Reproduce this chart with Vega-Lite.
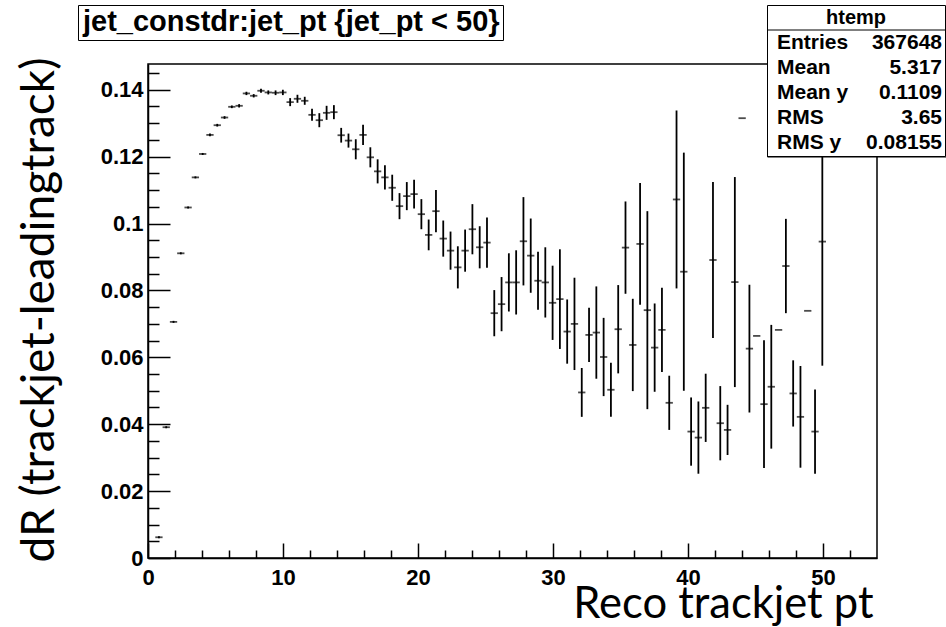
{
  "$schema": "https://vega.github.io/schema/vega-lite/v6.json",
  "width": 729,
  "height": 494,
  "autosize": "none",
  "padding": {"left": 148, "top": 64, "right": 69, "bottom": 69},
  "background": "white",
  "config": {"view": {"stroke": "black", "strokeWidth": 1.5}},
  "resolve": {"axis": {"x": "independent", "y": "independent"}},
  "datasets": {
    "profile": [
      {"x": 0.81, "y": 0.0062, "err": 0.0003},
      {"x": 1.35, "y": 0.0391, "err": 0.0003},
      {"x": 1.89, "y": 0.0706, "err": 0.0003},
      {"x": 2.43, "y": 0.0911, "err": 0.0003},
      {"x": 2.97, "y": 0.1048, "err": 0.0003},
      {"x": 3.51, "y": 0.1138, "err": 0.0003},
      {"x": 4.05, "y": 0.1208, "err": 0.0003},
      {"x": 4.59, "y": 0.1265, "err": 0.0004},
      {"x": 5.13, "y": 0.1294, "err": 0.0004},
      {"x": 5.67, "y": 0.1317, "err": 0.0004},
      {"x": 6.21, "y": 0.1349, "err": 0.0004},
      {"x": 6.75, "y": 0.1352, "err": 0.0005},
      {"x": 7.29, "y": 0.1389, "err": 0.0005},
      {"x": 7.83, "y": 0.1382, "err": 0.0005},
      {"x": 8.37, "y": 0.1397, "err": 0.0006},
      {"x": 8.91, "y": 0.1392, "err": 0.0006},
      {"x": 9.45, "y": 0.1391, "err": 0.0007},
      {"x": 9.99, "y": 0.1392, "err": 0.0008},
      {"x": 10.53, "y": 0.1363, "err": 0.0012},
      {"x": 11.07, "y": 0.1373, "err": 0.0012},
      {"x": 11.61, "y": 0.1367, "err": 0.0012},
      {"x": 12.15, "y": 0.1325, "err": 0.0018},
      {"x": 12.69, "y": 0.1309, "err": 0.0021},
      {"x": 13.23, "y": 0.1331, "err": 0.0021},
      {"x": 13.77, "y": 0.1333, "err": 0.0021},
      {"x": 14.31, "y": 0.1264, "err": 0.0022},
      {"x": 14.85, "y": 0.1248, "err": 0.0021},
      {"x": 15.39, "y": 0.1222, "err": 0.003},
      {"x": 15.93, "y": 0.1265, "err": 0.003},
      {"x": 16.47, "y": 0.1198, "err": 0.003},
      {"x": 17.01, "y": 0.1156, "err": 0.0036},
      {"x": 17.55, "y": 0.1138, "err": 0.0036},
      {"x": 18.09, "y": 0.1107, "err": 0.0039},
      {"x": 18.63, "y": 0.1052, "err": 0.0039},
      {"x": 19.17, "y": 0.1082, "err": 0.0042},
      {"x": 19.71, "y": 0.1088, "err": 0.0043},
      {"x": 20.25, "y": 0.1028, "err": 0.0045},
      {"x": 20.79, "y": 0.0966, "err": 0.0046},
      {"x": 21.33, "y": 0.1037, "err": 0.0063},
      {"x": 21.87, "y": 0.0955, "err": 0.0054},
      {"x": 22.41, "y": 0.0919, "err": 0.0057},
      {"x": 22.95, "y": 0.0869, "err": 0.0063},
      {"x": 23.49, "y": 0.0919, "err": 0.0063},
      {"x": 24.03, "y": 0.0983, "err": 0.0075},
      {"x": 24.57, "y": 0.0929, "err": 0.0063},
      {"x": 25.11, "y": 0.0943, "err": 0.0075},
      {"x": 25.65, "y": 0.0732, "err": 0.0069},
      {"x": 26.19, "y": 0.0759, "err": 0.0081},
      {"x": 26.73, "y": 0.0824, "err": 0.0087},
      {"x": 27.27, "y": 0.0824, "err": 0.0096},
      {"x": 27.81, "y": 0.0947, "err": 0.0132},
      {"x": 28.35, "y": 0.0904, "err": 0.0111},
      {"x": 28.89, "y": 0.0829, "err": 0.0087},
      {"x": 29.43, "y": 0.0824, "err": 0.0105},
      {"x": 29.97, "y": 0.0763, "err": 0.0111},
      {"x": 30.51, "y": 0.0774, "err": 0.0149},
      {"x": 31.05, "y": 0.0677, "err": 0.0096},
      {"x": 31.59, "y": 0.07, "err": 0.0138},
      {"x": 32.13, "y": 0.0495, "err": 0.0073},
      {"x": 32.67, "y": 0.0667, "err": 0.0081},
      {"x": 33.21, "y": 0.0674, "err": 0.0138},
      {"x": 33.75, "y": 0.0601, "err": 0.0117},
      {"x": 34.29, "y": 0.0503, "err": 0.0081},
      {"x": 34.83, "y": 0.0684, "err": 0.0132},
      {"x": 35.37, "y": 0.0928, "err": 0.0138},
      {"x": 35.91, "y": 0.0637, "err": 0.0138},
      {"x": 36.45, "y": 0.0939, "err": 0.0182},
      {"x": 36.99, "y": 0.0741, "err": 0.0296},
      {"x": 37.53, "y": 0.0629, "err": 0.0132},
      {"x": 38.07, "y": 0.0682, "err": 0.0126},
      {"x": 38.61, "y": 0.0464, "err": 0.0081},
      {"x": 39.15, "y": 0.1072, "err": 0.0266},
      {"x": 39.69, "y": 0.0856, "err": 0.0356},
      {"x": 40.23, "y": 0.0378, "err": 0.0102},
      {"x": 40.77, "y": 0.036, "err": 0.0108},
      {"x": 41.31, "y": 0.0449, "err": 0.0102},
      {"x": 41.85, "y": 0.0891, "err": 0.0233},
      {"x": 42.39, "y": 0.0403, "err": 0.0111},
      {"x": 42.93, "y": 0.0383, "err": 0.0075},
      {"x": 43.47, "y": 0.0825, "err": 0.0314},
      {"x": 44.01, "y": 0.1315, "err": 0},
      {"x": 44.55, "y": 0.0626, "err": 0.0191},
      {"x": 45.09, "y": 0.0664, "err": 0},
      {"x": 45.63, "y": 0.046, "err": 0.0191},
      {"x": 46.17, "y": 0.0512, "err": 0.0185},
      {"x": 46.71, "y": 0.0682, "err": 0},
      {"x": 47.25, "y": 0.0873, "err": 0.0141},
      {"x": 47.79, "y": 0.0492, "err": 0.0099},
      {"x": 48.33, "y": 0.0422, "err": 0.0152},
      {"x": 48.87, "y": 0.0739, "err": 0},
      {"x": 49.41, "y": 0.0378, "err": 0.0126},
      {"x": 49.95, "y": 0.0946, "err": 0.0371}
    ],
    "stats": [
      {"name": "Entries", "val": "367648"},
      {"name": "Mean", "val": "5.317"},
      {"name": "Mean y", "val": "0.1109"},
      {"name": "RMS", "val": "3.65"},
      {"name": "RMS y", "val": "0.08155"}
    ],
    "label": [{"t": "jet_constdr:jet_pt {jet_pt < 50}"}]
  },
  "layer": [
    {
      "data": {"name": "profile"},
      "mark": {"type": "errorbar", "color": "black", "thickness": 1.8},
      "encoding": {
        "x": {
          "field": "x", "type": "quantitative",
          "scale": {"domain": [0, 54], "nice": false, "zero": false},
          "axis": {
            "orient": "bottom",
            "values": [0, 10, 20, 30, 40, 50],
            "tickSize": -15, "tickWidth": 1.5, "tickColor": "black",
            "domainColor": "black", "domainWidth": 1.5,
            "format": "d",
            "labelFont": "Liberation Sans", "labelFontWeight": "bold", "labelFontSize": 22, "labelColor": "black",
            "labelPadding": 24, "labelFlush": false, "labelOverlap": false, "labelBound": false,
            "grid": false,
            "title": "Reco trackjet pt",
            "titleFont": "Lato", "titleFontSize": 43.5, "titleFontWeight": "normal", "titleColor": "black",
            "titleAlign": "right", "titleAnchor": "end", "titleBaseline": "alphabetic",
            "titleX": 725, "titleY": 59
          }
        },
        "y": {
          "field": "y", "type": "quantitative",
          "scale": {"domain": [0, 0.1477], "nice": false},
          "axis": {
            "orient": "left",
            "values": [0, 0.02, 0.04, 0.06, 0.08, 0.1, 0.12, 0.14],
            "tickSize": -22, "tickWidth": 1.5, "tickColor": "black",
            "domainColor": "black", "domainWidth": 1.5,
            "format": "~g",
            "labelFont": "Liberation Sans", "labelFontWeight": "bold", "labelFontSize": 22, "labelColor": "black",
            "labelPadding": 27, "labelFlush": false, "labelOverlap": false, "labelBound": false,
            "grid": false,
            "title": "dR (trackjet-leadingtrack)",
            "titleFont": "Lato", "titleFontSize": 46, "titleFontWeight": "normal", "titleColor": "black",
            "titleAngle": -90, "titleAlign": "left", "titleBaseline": "alphabetic",
            "titleX": -95, "titleY": 498
          }
        },
        "yError": {"field": "err"}
      }
    },
    {
      "data": {"name": "profile"},
      "mark": {"type": "tick", "orient": "horizontal", "color": "black", "size": 7.3, "thickness": 1.8},
      "encoding": {
        "x": {
          "field": "x", "type": "quantitative",
          "axis": {
            "orient": "bottom",
            "values": [2, 4, 6, 8, 12, 14, 16, 18, 22, 24, 26, 28, 32, 34, 36, 38, 42, 44, 46, 48, 52],
            "tickSize": -8, "tickWidth": 1.5, "tickColor": "black",
            "labels": false, "domain": false, "grid": false, "title": null
          }
        },
        "y": {
          "field": "y", "type": "quantitative",
          "axis": {
            "orient": "left",
            "values": [0.005, 0.01, 0.015, 0.025, 0.03, 0.035, 0.045, 0.05, 0.055, 0.065, 0.07, 0.075, 0.085, 0.09, 0.095, 0.105, 0.11, 0.115, 0.125, 0.13, 0.135, 0.145],
            "tickSize": -11, "tickWidth": 1.5, "tickColor": "black",
            "labels": false, "domain": false, "grid": false, "title": null
          }
        }
      }
    },
    {
      "data": {"name": "stats"},
      "mark": {"type": "point", "opacity": 0},
      "encoding": {
        "fill": {
          "field": "val", "type": "nominal",
          "scale": {"domain": ["367648", "5.317", "0.1109", "3.65", "0.08155"]},
          "legend": {
            "orient": "none", "legendX": 619, "legendY": -59, "direction": "vertical", "zindex": 1,
            "title": "htemp", "titleFont": "Liberation Sans", "titleFontSize": 20, "titleFontWeight": "bold", "titleColor": "black",
            "titleAnchor": "middle", "titleAlign": "center", "titlePadding": 4.5,
            "padding": 3, "strokeColor": "black", "fillColor": "white",
            "labelFont": "Liberation Sans", "labelFontSize": 21, "labelFontWeight": "bold", "labelColor": "black",
            "labelAlign": "right", "labelOffset": 151,
            "symbolSize": 1, "symbolOpacity": 0, "symbolStrokeWidth": 0, "rowPadding": 3
          }
        },
        "stroke": {
          "field": "val", "type": "nominal",
          "legend": {
            "orient": "none", "legendX": 619, "legendY": -34.5, "direction": "vertical", "zindex": 2,
            "title": null,
            "padding": 3, "strokeColor": "black",
            "labelExpr": "'\u00a0'",
            "labelFont": "Liberation Sans", "labelFontSize": 21, "labelFontWeight": "bold", "labelColor": "black", "labelOpacity": 0,
            "labelAlign": "right", "labelOffset": 153,
            "symbolSize": 1, "symbolOpacity": 0, "symbolStrokeWidth": 0, "rowPadding": 3
          }
        },
        "shape": {
          "field": "name", "type": "nominal",
          "legend": {
            "orient": "none", "legendX": 619, "legendY": -34.5, "direction": "vertical", "zindex": 3,
            "title": null,
            "padding": 3,
            "labelFont": "Liberation Sans", "labelFontSize": 21, "labelFontWeight": "bold", "labelColor": "black",
            "labelAlign": "left", "labelOffset": -14,
            "symbolSize": 1, "symbolOpacity": 0, "symbolStrokeWidth": 0, "rowPadding": 3
          }
        }
      }
    },
    {
      "data": {"name": "label"},
      "mark": {"type": "point", "opacity": 0},
      "encoding": {
        "strokeDash": {
          "field": "t", "type": "nominal",
          "legend": {
            "orient": "none", "legendX": -70, "legendY": -59, "direction": "vertical", "zindex": 1,
            "title": null,
            "padding": 2.5, "strokeColor": "black", "fillColor": "white",
            "labelFont": "Liberation Sans", "labelFontSize": 29, "labelFontWeight": "bold", "labelColor": "black",
            "labelLimit": 800, "labelOffset": -26.5,
            "symbolSize": 1, "symbolOpacity": 0, "symbolStrokeWidth": 0
          }
        }
      }
    }
  ]
}
